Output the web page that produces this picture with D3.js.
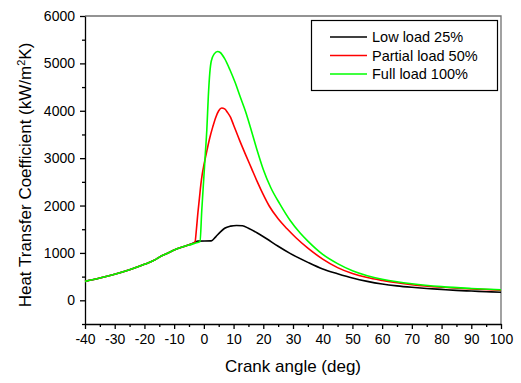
<!DOCTYPE html>
<html>
<head>
<meta charset="utf-8">
<script src="https://cdn.jsdelivr.net/npm/d3@7"></script>
<style>
    body { margin: 0; background: #fff; }
    text { font-family: "Liberation Sans", Arial, sans-serif; fill: #000; }
</style>
</head>
<body>
<div id="chart"></div>
<script>
'use strict';

// crank angle (deg) / heat transfer coefficient (kW/m2K)
const lowAngle = [-40, -35, -30, -25, -20, -16, -15, -12, -10, -7, -5, -3, -2, 2.5, 4, 5.5, 7, 9, 11, 13, 15, 18, 21, 25, 29, 35, 40, 45, 50, 55, 60, 65, 70, 75, 80, 85, 90, 95, 100];
const lowLoad = [400, 470, 550, 645, 760, 870, 910, 1000, 1060, 1130, 1170, 1225, 1250, 1255, 1340, 1440, 1520, 1565, 1580, 1575, 1520, 1420, 1305, 1140, 990, 800, 660, 560, 470, 400, 345, 305, 275, 250, 230, 210, 195, 182, 170];

const partialAngle = [-40, -35, -30, -25, -20, -16, -15, -12, -10, -7, -5, -3, -2.5, -2, -1.5, -1, -0.5, 0, 1, 2, 3, 4, 5, 6, 7, 8, 9, 10, 12, 14, 16, 18, 20, 22, 25, 28, 31, 35, 40, 45, 50, 55, 60, 65, 70, 80, 90, 100];
const partialLoad = [400, 470, 550, 645, 760, 870, 910, 1000, 1060, 1130, 1170, 1225, 1500, 1850, 2150, 2450, 2680, 2850, 3150, 3430, 3660, 3860, 4000, 4060, 4040, 3960, 3860, 3700, 3380, 3080, 2790, 2500, 2230, 1990, 1720, 1510, 1320, 1100, 870, 690, 565, 480, 420, 370, 330, 275, 240, 215];

const fullAngle = [-40, -35, -30, -25, -20, -16, -15, -12, -10, -7, -5, -3, -1.3, -0.7, 0, 0.5, 1, 1.5, 2, 2.5, 3.5, 4.6, 5.5, 7, 8.8, 10.5, 12.2, 14, 16, 18, 20, 22.5, 25.6, 29, 32.4, 35, 40, 45, 50, 55, 60, 65, 70, 80, 90, 100];
const fullLoad = [400, 470, 550, 645, 760, 870, 910, 1000, 1060, 1130, 1165, 1205, 1240, 1900, 2600, 3100, 3600, 4300, 4800, 5050, 5200, 5250, 5230, 5100, 4860, 4600, 4300, 3990, 3580, 3150, 2760, 2380, 2030, 1690, 1420, 1250, 970, 775, 625, 520, 445, 390, 348, 288, 250, 222];

const seriesNames = ['Low load 25%', 'Partial load 50%', 'Full load 100%'];
const seriesColors = ['#000000', '#ff0000', '#00ff00'];
const xTicks = [-40, -30, -20, -10, 0, 10, 20, 30, 40, 50, 60, 70, 80, 90, 100];
const yTicks = [0, 1000, 2000, 3000, 4000, 5000, 6000];

const series = [
    {name: seriesNames[0], color: seriesColors[0], data: lowAngle.map((a, i) => ({a: a, h: lowLoad[i]}))},
    {name: seriesNames[1], color: seriesColors[1], data: partialAngle.map((a, i) => ({a: a, h: partialLoad[i]}))},
    {name: seriesNames[2], color: seriesColors[2], data: fullAngle.map((a, i) => ({a: a, h: fullLoad[i]}))}
];

const W = 521, H = 383;
const margin = {left: 85, right: 501, top: 16, bottom: 324};

const svg = d3.select('#chart').append('svg')
    .attr('width', W)
    .attr('height', H);

const x = d3.scaleLinear().domain([-40, 100]).range([margin.left, margin.right]);
const y = d3.scaleLinear().domain([-500, 6000]).range([margin.bottom, margin.top]);

// frame top + right
svg.append('path')
    .attr('d', 'M' + margin.left + ',' + margin.top + 'H' + margin.right + 'V' + margin.bottom)
    .attr('fill', 'none')
    .attr('stroke', '#707070')
    .attr('stroke-width', 1.3);

// minor ticks
svg.append('g')
    .attr('transform', 'translate(0,' + margin.bottom + ')')
    .call(d3.axisBottom(x).tickValues(d3.range(-35, 100, 10)).tickSize(3).tickFormat(''))
    .call(g => g.select('.domain').remove());
svg.append('g')
    .attr('transform', 'translate(' + margin.left + ',0)')
    .call(d3.axisLeft(y).tickValues(d3.range(-500, 6000, 1000)).tickSize(3).tickFormat(''))
    .call(g => g.select('.domain').remove());

// main axes
const plain = d => String(d);
const xAxis = svg.append('g')
    .attr('transform', 'translate(0,' + margin.bottom + ')')
    .call(d3.axisBottom(x).tickValues(xTicks).tickFormat(plain).tickSize(5).tickSizeOuter(0).tickPadding(5));
const yAxis = svg.append('g')
    .attr('transform', 'translate(' + margin.left + ',0)')
    .call(d3.axisLeft(y).tickValues(yTicks).tickFormat(plain).tickSize(5).tickSizeOuter(0).tickPadding(5));

[xAxis, yAxis].forEach(function (g) {
    g.selectAll('text')
        .style('font-family', '"Liberation Sans", Arial, sans-serif')
        .style('font-size', '14px')
        .attr('fill', '#000');
    g.selectAll('line, path').attr('stroke', '#000').attr('stroke-width', 1.3);
});

svg.selectAll('g.tick line').attr('stroke', '#000').attr('stroke-width', 1.3);

// lines
const line = d3.line()
    .x(d => x(d.a))
    .y(d => y(d.h))
    .curve(d3.curveMonotoneX);

svg.append('g').selectAll('path')
    .data(series)
    .enter()
    .append('path')
    .attr('d', s => line(s.data))
    .attr('fill', 'none')
    .attr('stroke', s => s.color)
    .attr('stroke-width', 1.6);

// axis titles
svg.append('text')
    .attr('x', (margin.left + margin.right) / 2)
    .attr('y', 372)
    .attr('text-anchor', 'middle')
    .style('font-size', '17px')
    .text('Crank angle (deg)');

const yTitle = svg.append('text')
    .attr('transform', 'translate(31,' + ((margin.top + margin.bottom) / 2 + 5) + ') rotate(-90)')
    .attr('text-anchor', 'middle')
    .style('font-size', '17px');
yTitle.append('tspan').text('Heat Transfer Coefficient (kW/m');
yTitle.append('tspan').attr('dy', -6).style('font-size', '11px').text('2');
yTitle.append('tspan').attr('dy', 6).text('K)');

// legend
const legend = svg.append('g');
legend.append('rect')
    .attr('x', 311.5)
    .attr('y', 20.5)
    .attr('width', 186)
    .attr('height', 70)
    .attr('fill', '#fff')
    .attr('stroke', '#000')
    .attr('stroke-width', 1.2);

const item = legend.selectAll('g.item')
    .data(series)
    .enter()
    .append('g')
    .attr('class', 'item')
    .attr('transform', (s, i) => 'translate(0,' + (37 + i * 18.5) + ')');

item.append('line')
    .attr('x1', 330).attr('x2', 367)
    .attr('stroke', s => s.color)
    .attr('stroke-width', 1.6);

item.append('text')
    .attr('x', 372)
    .attr('dy', '0.35em')
    .style('font-size', '14.5px')
    .text(s => s.name);
</script>
</body>
</html>
